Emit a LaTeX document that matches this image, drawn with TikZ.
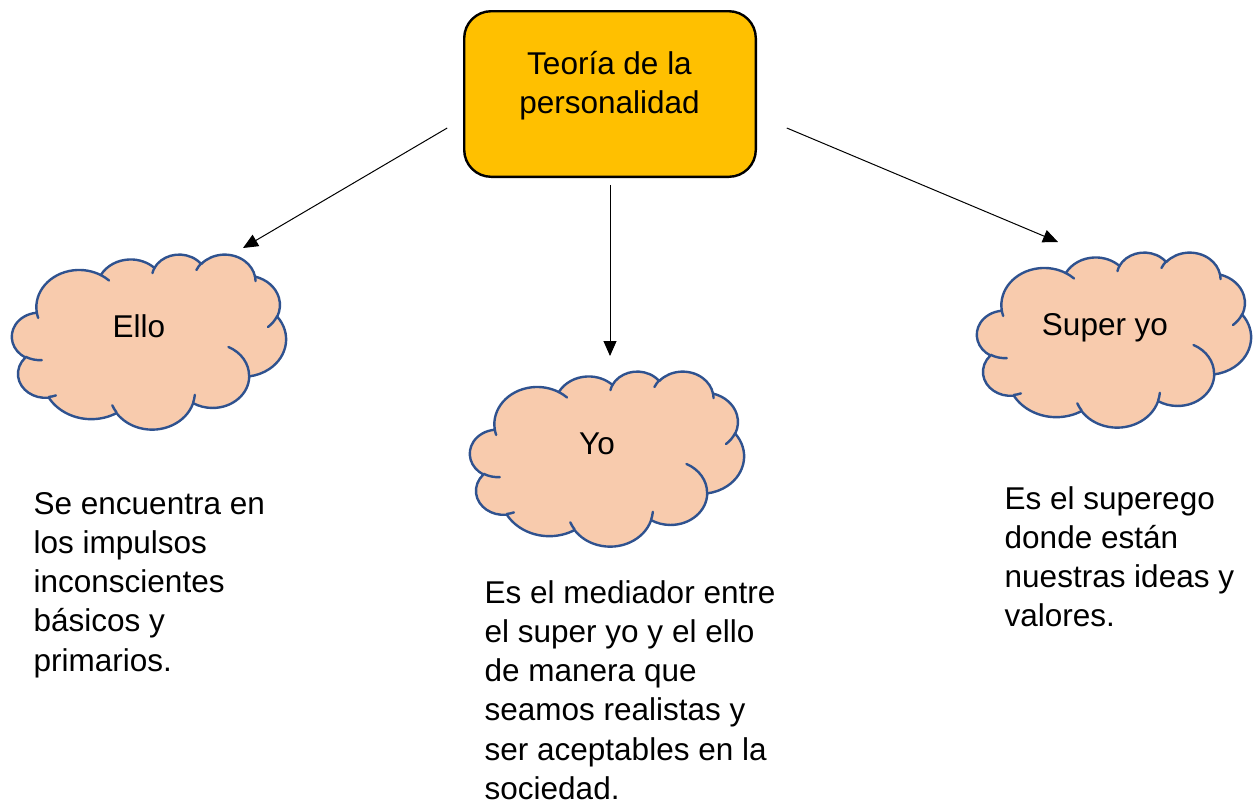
\documentclass[tikz,border=0pt]{standalone}
\usepackage{fontspec}
\setmainfont{Liberation Sans}
\usetikzlibrary{arrows.meta}

\definecolor{titlefill}{HTML}{FFC000}
\definecolor{cloudfill}{HTML}{F8CBAD}
\definecolor{cloudline}{HTML}{2F528F}

% one puff of the cloud: x radius, y radius, start and sweep (visual angles)
\newcommand\puff[4]{%
  \pgfmathsetmacro\puffa{atan2(#1*sin(#3),#2*cos(#3))}%
  \pgfmathsetmacro\puffb{atan2(#1*sin(#3+#4),#2*cos(#3+#4))}%
  \pgfmathsetmacro\puffb{\puffb+360*(\puffb<\puffa)}%
  \pgfpatharcaxes{\puffa}{\puffb}{\pgfpointxy{#1}{0}}{\pgfpointxy{0}{#2}}}

% cloud of 274 x 175 with its top left corner at (#1,#2)
\newcommand\cloudshape[2]{%
  \begin{scope}[shift={(#1,#2)}, x={(274/432,0)}, y={(0,175/432)}]
    \pgfpathmoveto{\pgfpointxy{39.00}{143.70}}%
    \puff{67.53}{91.90}{-190.4875}{123.7805}%
    \puff{53.33}{72.67}{-144.1024}{89.9452}%
    \puff{43.65}{59.45}{-145.8079}{99.7230}%
    \puff{48.57}{65.95}{-130.9861}{117.2417}%
    \puff{53.33}{72.73}{-78.7089}{109.0269}%
    \puff{67.75}{92.20}{-46.2673}{130.2690}%
    \puff{57.85}{78.67}{0.6250}{114.0333}%
    \puff{67.52}{92.15}{22.4516}{115.1726}%
    \puff{77.20}{105.43}{66.2426}{75.7110}%
    \puff{43.60}{59.18}{-274.9421}{146.7356}%
    \puff{43.45}{59.45}{-246.8285}{152.5189}%
    \pgfpathclose
    \pgfsetfillcolor{cloudfill}\pgfsetstrokecolor{cloudline}%
    \pgfsetlinewidth{2.4pt}\pgfsetroundjoin\pgfsetroundcap
    \pgfusepath{fill,stroke}%
    % the creases inside
    \pgfpathmoveto{\pgfpointxy{46.93}{261.77}}\puff{43.45}{59.45}{86.7420}{26.4295}%
    \pgfpathmoveto{\pgfpointxy{69.28}{348.99}}\puff{43.60}{59.18}{73.6105}{11.4475}%
    \pgfpathmoveto{\pgfpointxy{164.78}{390.90}}\puff{67.52}{92.15}{137.6242}{14.0811}%
    \pgfpathmoveto{\pgfpointxy{288.27}{347.51}}\puff{67.52}{92.15}{6.4533}{15.9984}%
    \pgfpathmoveto{\pgfpointxy{341.29}{229.54}}\puff{57.85}{78.67}{-70.2924}{70.9174}%
    \pgfpathmoveto{\pgfpointxy{417.98}{153.54}}\puff{53.33}{72.73}{30.3180}{27.7515}%
    \pgfpathmoveto{\pgfpointxy{383.24}{54.26}}\puff{48.57}{65.95}{-13.7443}{14.8589}%
    \pgfpathmoveto{\pgfpointxy{290.78}{39.52}}\puff{48.57}{65.95}{-149.1815}{18.1954}%
    \pgfpathmoveto{\pgfpointxy{221.41}{47.20}}\puff{43.65}{59.45}{-163.4943}{17.6864}%
    \pgfpathmoveto{\pgfpointxy{140.00}{51.92}}\puff{67.53}{91.90}{-66.7070}{12.3194}%
    \pgfpathmoveto{\pgfpointxy{41.27}{157.89}}\puff{67.53}{91.90}{157.6544}{11.8582}%
    \pgfusepath{stroke}%
  \end{scope}}

\begin{document}
\begin{tikzpicture}[
        x=1pt, y=-1pt,
        titlebox/.style={rectangle, rounded corners=27pt, draw=black, line width=2.4pt,
            fill=titlefill, minimum width=291.6pt, minimum height=165.6pt,
            inner sep=0pt, outer sep=0pt},
        txt/.style={inner sep=0pt, font=\fontsize{31.5}{39.3}\selectfont},
        note/.style={txt, align=left, anchor=base west},
        arr/.style={-{Triangle[length=15pt, width=13pt]}, line width=1pt},
    ]
    \useasboundingbox (0,0) rectangle (1257,804);

    % title (base of a multi-line node = its last line)
    \node[titlebox] (title) at (610,94) {};
    \node[txt, align=center, anchor=base] (titletxt) at (609.5,113.3) {Teoría de la\\personalidad};

    % clouds
    \cloudshape{12}{254}
    \cloudshape{470}{371}
    \cloudshape{977}{252}
    \node[txt, anchor=base] (ello) at (139,337) {Ello};
    \node[txt, anchor=base] (yo) at (597,454) {Yo};
    \node[txt, anchor=base] (superyo) at (1105,335) {Super yo};

    % arrow ends
    \coordinate (elloin) at (243,248);
    \coordinate (yoin) at (610,356);
    \coordinate (superyoin) at (1058,242);
    \draw[arr] ([shift={(-17,34)}]title.west) -- (elloin);
    \draw[arr] ([shift={(0,8)}]title.south) -- (yoin);
    \draw[arr] ([shift={(31,34)}]title.east) -- (superyoin);

    % notes
    \node[note] (ellonote) at (33.5,671.2) {Se encuentra en\\los impulsos\\inconscientes\\básicos y\\primarios.};
    \node[note] (yonote) at (484.5,799.5) {Es el mediador entre\\el super yo y el ello\\de manera que\\seamos realistas y\\ser aceptables en la\\sociedad.};
    \node[note] (superyonote) at (1004.5,626.9) {Es el superego\\donde están\\nuestras ideas y\\valores.};
\end{tikzpicture}
\end{document}
